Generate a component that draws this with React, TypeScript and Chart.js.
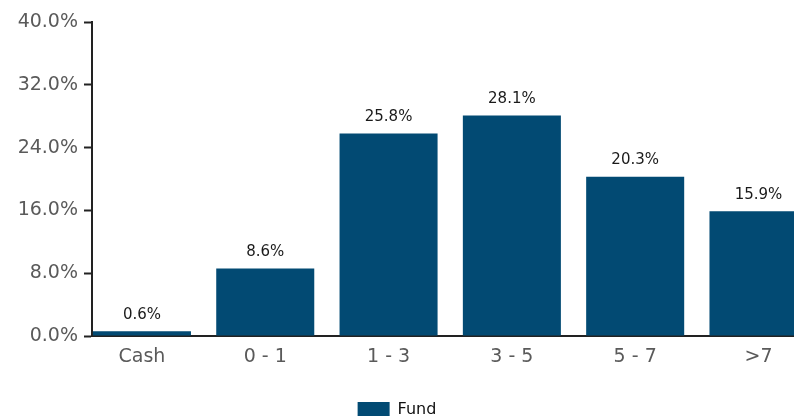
import React, { useEffect, useRef } from "react";
import { Chart, registerables } from "chart.js";

Chart.register(...registerables);

const categories = ["Cash", "0 - 1", "1 - 3", "3 - 5", "5 - 7", ">7"];
const fundValues = [0.6, 8.6, 25.8, 28.1, 20.3, 15.9];
const yTicks = [0, 8, 16, 24, 32, 40];
const seriesName = "Fund";

const BAR_COLOR = "#024a73";
const AXIS_COLOR = "#222222";
const TICK_COLOR = "#5a5a5a";
const FONT = "'DejaVu Sans', Verdana, sans-serif";

const valueLabels = {
  id: "valueLabels",
  afterDatasetsDraw(chart: any) {
    const ctx = chart.ctx;
    const meta = chart.getDatasetMeta(0);
    ctx.save();
    ctx.font = `15px ${FONT}`;
    ctx.fillStyle = "#1a1a1a";
    ctx.textAlign = "center";
    ctx.textBaseline = "bottom";
    meta.data.forEach((el: any, i: number) => {
      ctx.fillText(fundValues[i].toFixed(1) + "%", el.x, el.y - 9);
    });
    ctx.restore();
  },
};

export default function App() {
  const ref = useRef<HTMLCanvasElement | null>(null);

  useEffect(() => {
    document.body.style.margin = "0";
    document.body.style.overflow = "hidden";
    const canvas = ref.current;
    if (!canvas) return;
    const chart = new Chart(canvas, {
      type: "bar",
      data: {
        datasets: [
          {
            label: seriesName,
            data: fundValues.map((v, i) => ({ x: i, y: v })),
            backgroundColor: BAR_COLOR,
            borderWidth: 0,
            barPercentage: 1,
            categoryPercentage: 0.795,
          },
        ],
      },
      options: {
        animation: false,
        responsive: true,
        maintainAspectRatio: false,
        layout: { padding: { top: 22, left: 0, right: 0, bottom: 0 } },
        plugins: {
          legend: {
            display: true,
            position: "bottom",
            labels: {
              boxWidth: 32,
              boxHeight: 16,
              padding: 10,
              color: "#111111",
              font: { family: FONT, size: 16 },
            },
          },
          tooltip: { enabled: false },
        },
        scales: {
          x: {
            type: "linear",
            offset: false,
            min: -0.405,
            max: 5.288,
            afterBuildTicks: (s: any) => {
              s.ticks = categories.map((_, i) => ({ value: i }));
            },
            afterFit: (s: any) => {
              s.height = 56;
            },
            ticks: {
              callback: (v: any) => categories[Math.round(Number(v))] ?? "",
              color: TICK_COLOR,
              font: { family: FONT, size: 19 },
              padding: 2,
              maxRotation: 0,
              autoSkip: false,
            },
            grid: { display: false, offset: false },
            border: { display: true, color: AXIS_COLOR, width: 2 },
          },
          y: {
            min: 0,
            max: 40,
            afterBuildTicks: (s: any) => {
              s.ticks = yTicks.map((v) => ({ value: v }));
            },
            afterFit: (s: any) => {
              s.width = 92;
            },
            ticks: {
              callback: (v: any) => Number(v).toFixed(1) + "%",
              color: TICK_COLOR,
              font: { family: FONT, size: 19 },
              padding: 6,
            },
            grid: {
              display: true,
              drawOnChartArea: false,
              drawTicks: true,
              tickLength: 8,
              tickWidth: 2,
              tickColor: AXIS_COLOR,
            },
            border: { display: true, color: AXIS_COLOR, width: 2 },
          },
        },
      },
      plugins: [valueLabels],
    });
    return () => chart.destroy();
  }, []);

  return (
    <div style={{ position: "relative", width: 794, height: 428 }}>
      <canvas ref={ref} />
    </div>
  );
}
